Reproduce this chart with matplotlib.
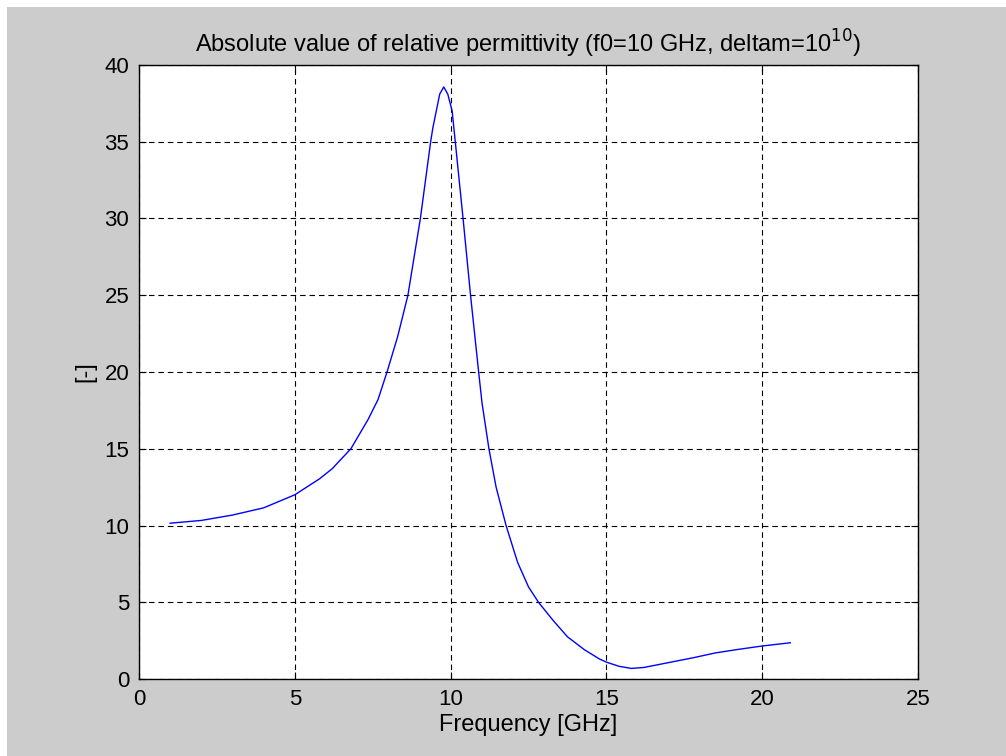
import matplotlib
matplotlib.use("Agg")
import matplotlib.pyplot as plt
from matplotlib.patches import Rectangle

freq_ghz = [1.0, 2.0, 3.0, 4.0, 5.0, 5.8, 6.2, 6.8, 7.35, 7.67, 7.96, 8.3, 8.63, 9.03,
            9.36, 9.43, 9.54, 9.65, 9.78, 9.91, 10.05, 10.15, 10.4, 10.64, 10.9, 11.01,
            11.23, 11.46, 11.78, 12.15, 12.5, 12.82, 13.28, 13.75, 14.3,
            14.78, 15.0, 15.4, 15.8, 16.2, 16.7, 17.2, 17.8, 18.5, 19.2, 20.0, 20.9]
abs_eps = [10.15, 10.33, 10.68, 11.15, 12.0, 13.05, 13.7, 15.0, 16.9, 18.2, 20.0, 22.3, 25.0, 30.0,
           35.0, 35.9, 37.0, 38.1, 38.57, 38.1, 37.0, 35.0, 30.0, 25.0, 20.0, 17.96,
           15.0, 12.5, 10.0, 7.6, 6.0, 5.0, 3.84, 2.75, 1.9,
           1.3, 1.1, 0.83, 0.69, 0.75, 0.95, 1.15, 1.39, 1.7, 1.92, 2.15, 2.36]
x_ticks = [0, 5, 10, 15, 20, 25]
y_ticks = [0, 5, 10, 15, 20, 25, 30, 35, 40]

plt.rcParams['font.family'] = ['Liberation Sans', 'DejaVu Sans']

W, H = 1006, 756
fig = plt.figure(figsize=(W / 100, H / 100), dpi=100, facecolor='white')
fig.patches.append(Rectangle((7 / W, 0), 1, 1 - 7 / H, transform=fig.transFigure,
                             facecolor='#cccccc', edgecolor='none', zorder=-10))

ax = fig.add_axes([139 / W, 1 - 679 / H, (918 - 139) / W, (679 - 65) / H])
ax.set_facecolor('white')
ax.plot(freq_ghz, abs_eps, color='#0000ff', lw=1.0)
ax.set_xlim(0, 25)
ax.set_ylim(0, 40)
ax.set_xticks(x_ticks)
ax.set_yticks(y_ticks)
ax.grid(True, color='black', linestyle=(0, (5, 3.5)), linewidth=0.8)
ax.tick_params(direction='in', length=5, width=0.8, top=True, right=True,
               labelsize=16, colors='black', pad=7)
for s in ax.spines.values():
    s.set_linewidth(1.0)
    s.set_color('black')

ax.set_title('Absolute value of relative permittivity (f0=10 GHz, deltam=10$^{10}$)',
             fontsize=17, pad=9)
ax.set_xlabel('Frequency [GHz]', fontsize=17, labelpad=3)
ax.set_ylabel('[-]', fontsize=17, labelpad=6)

fig.savefig('out.png', dpi=100, facecolor=fig.get_facecolor())
